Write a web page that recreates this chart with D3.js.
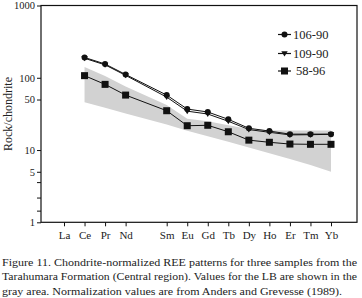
<!DOCTYPE html>
<html><head><meta charset="utf-8">
<script src="https://cdnjs.cloudflare.com/ajax/libs/d3/7.8.5/d3.min.js"></script>
<style>body{margin:0;background:#fff}svg{display:block}
svg text{font-family:"Times New Roman","Liberation Serif",Tinos,"DejaVu Serif","Noto Serif",FreeSerif,serif !important;fill:#222}</style>
</head><body><svg id="c" width="362" height="298"></svg>
<script>
const elements = ["La","Ce","Pr","Nd","Pm","Sm","Eu","Gd","Tb","Dy","Ho","Er","Tm","Yb"];
const labeledElements = ["La","Ce","Pr","Nd","Sm","Eu","Gd","Tb","Dy","Ho","Er","Tm","Yb"];
const plotElements = ["Ce","Pr","Nd","Sm","Eu","Gd","Tb","Dy","Ho","Er","Tm","Yb"];
const s106_90 = [191,155,111,57.6,36.9,33.6,26.6,20,18.3,16.6,16.6,16.6];
const s109_90 = [186,151,108,54,34.5,31.5,25,19.2,17.6,16.2,16.3,16.5];
const s58_96  = [107,81,57.6,35,21.7,22,17.9,13.7,12.8,12.1,12.0,12.0];
const lbUpper = [141,106,76,42,27,25,22,19.5,18.8,18.6,18.6,18.6];
const lbLower = [46,38.5,32,22.5,18.5,15.5,13,10.8,9,7.5,6.2,5.0];
const yTickLabeled = [1000,100,50,10,5,1];
const yTickMinor = [3.6,2.2,1.45];
const seriesNames = ["106-90","109-90","58-96"];
const caption = [
 "Figure 11. Chondrite-normalized REE patterns for three samples from the",
 "Tarahumara Formation (Central region). Values for the LB are shown in the",
 "gray area. Normalization values are from Anders and Grevesse (1989)."
];

const SERIF = '"Times New Roman","Liberation Serif",Tinos,"DejaVu Serif",serif';
const svg = d3.select("#c");
const L=41, R=357, T=5.5, B=222.3;
const x = d3.scalePoint().domain(elements).range([64,331]);
const y = d3.scaleLog().domain([1,1000]).range([B,T]);

// gray LB field
const area = d3.area().x((d,i)=>x(plotElements[i])).y0((d,i)=>y(lbLower[i])).y1(d=>y(d));
svg.append("path").datum(lbUpper).attr("d",area).attr("fill","#d2d2d2");

// frame
svg.append("rect").attr("x",L).attr("y",T).attr("width",R-L).attr("height",B-T)
  .attr("fill","none").attr("stroke","#111").attr("stroke-width",1.2);

// y axis
const yAxis = d3.axisLeft(y).tickValues(yTickLabeled).tickFormat(d3.format("d")).tickSize(4).tickPadding(2);
const ya = svg.append("g").attr("transform",`translate(${L},0)`).call(yAxis).attr("font-family",SERIF);
ya.select(".domain").remove();
ya.selectAll("text").attr("font-size",10.5).attr("fill","#222");
ya.selectAll("line").attr("stroke","#111");
const ym = svg.append("g").attr("transform",`translate(${L},0)`)
  .call(d3.axisLeft(y).tickValues(yTickMinor).tickFormat("").tickSize(4));
ym.select(".domain").remove();
ym.selectAll("line").attr("stroke","#111");

// x axis
const xAxis = d3.axisBottom(x).tickValues(labeledElements).tickSize(4).tickPadding(5);
const xa = svg.append("g").attr("transform",`translate(0,${B})`).call(xAxis).attr("font-family",SERIF);
xa.select(".domain").remove();
xa.selectAll("text").attr("font-size",11).attr("fill","#222");
xa.selectAll("line").attr("stroke","#111");

// y title
svg.append("text").attr("transform","translate(12,114) rotate(-90)").attr("text-anchor","middle")
  .attr("font-size",12).text("Rock/chondrite");

// series
const line = d3.line().x((d,i)=>x(plotElements[i])).y(d=>y(d));
const allSeries = [s106_90,s109_90,s58_96];
const shapes = ["circle","triangle","square"];
allSeries.forEach(s=>{
  svg.append("path").datum(s).attr("d",line).attr("fill","none").attr("stroke","#111").attr("stroke-width",1);
});
function marker(g, shape, cx, cy){
  if(shape==="circle") g.append("circle").attr("cx",cx).attr("cy",cy).attr("r",3).attr("fill","#111");
  else if(shape==="square") g.append("rect").attr("x",cx-3.5).attr("y",cy-3.5).attr("width",7).attr("height",7).attr("fill","#111");
  else g.append("path").attr("d",`M${cx-3.2},${cy-2.2}L${cx+3.2},${cy-2.2}L${cx},${cy+3}Z`).attr("fill","#111");
}
[2,1,0].forEach(k=>{
  const g = svg.append("g");
  allSeries[k].forEach((v,i)=>marker(g, shapes[k], x(plotElements[i]), y(v)));
});

// legend
const legY = [34.5,53.5,71];
seriesNames.forEach((n,k)=>{
  const g = svg.append("g");
  g.append("line").attr("x1",278).attr("x2",291).attr("y1",legY[k]).attr("y2",legY[k]).attr("stroke","#111").attr("stroke-width",1.2);
  marker(g, shapes[k], 284.5, legY[k]);
  g.append("text").attr("x",k===2?296:293).attr("y",legY[k]+4.3).attr("font-size",12.5).text(n);
});

// caption
const capY=[265.5,280,294.5], capW=[355,355,340];
caption.forEach((t,i)=>{
  svg.append("text").attr("x",2).attr("y",capY[i]).attr("font-size",11.4)
    .attr("textLength",capW[i]).attr("lengthAdjust","spacingAndGlyphs").text(t);
});
</script></body></html>
